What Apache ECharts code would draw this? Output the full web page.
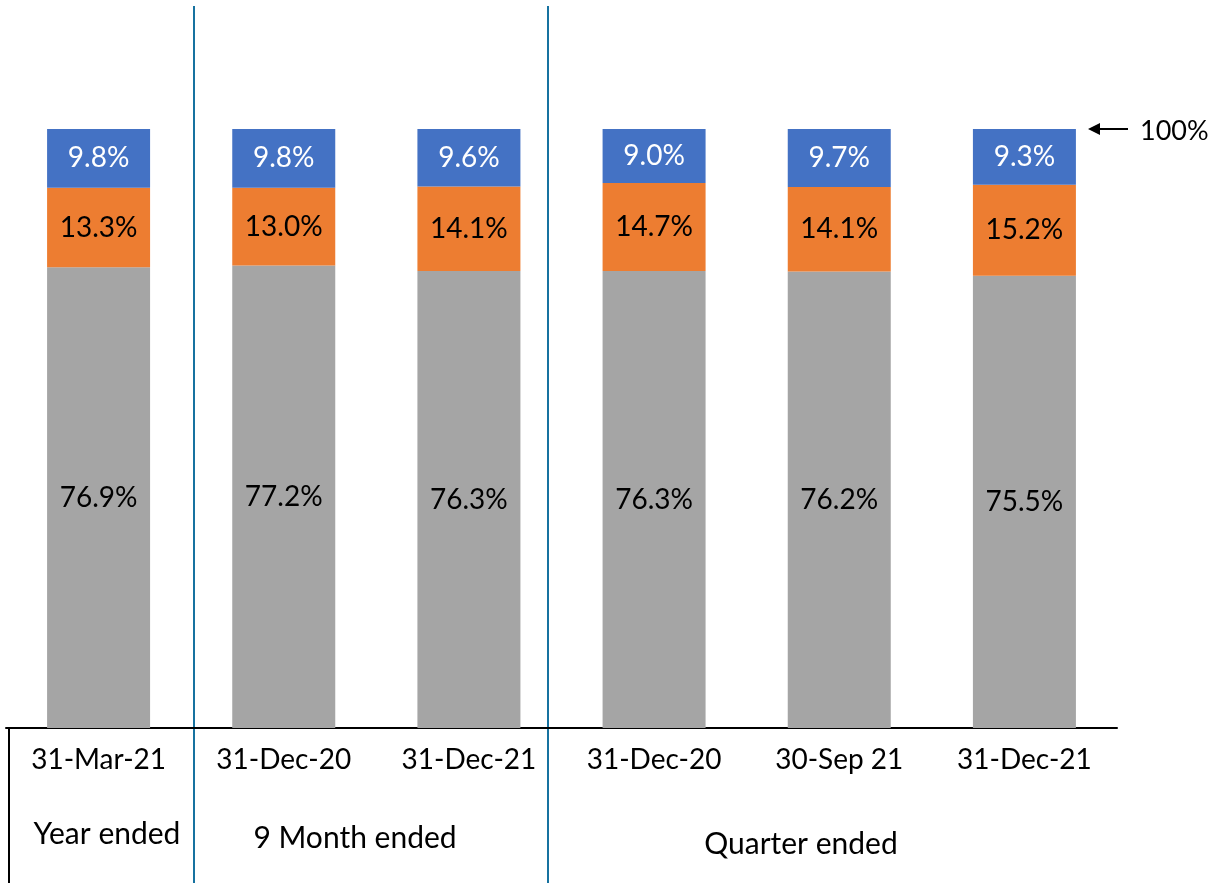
<!DOCTYPE html>
<html>
<head>
<meta charset="utf-8">
<script src="https://cdn.jsdelivr.net/npm/echarts@6/dist/echarts.min.js"></script>
<style>
html,body{margin:0;padding:0;background:#fff;}
#c{width:1212px;height:883px;}
</style>
</head>
<body>
<div id="c"></div>
<script>
const categories = ['31-Mar-21','31-Dec-20','31-Dec-21','31-Dec-20','30-Sep 21','31-Dec-21'];
const grayValues = [76.9, 77.2, 76.3, 76.3, 76.2, 75.5];
const orangeValues = [13.3, 13.0, 14.1, 14.7, 14.1, 15.2];
const blueValues = [9.8, 9.8, 9.6, 9.0, 9.7, 9.3];
const groupLabels = ['Year ended', '9 Month ended', 'Quarter ended'];
const topLabel = '100%';

const FONT = 'Lato';
const chart = echarts.init(document.getElementById('c'));

function mk(name, data, color, textColor) {
  return {
    name, type: 'bar', stack: 'total', data, barWidth: 103,
    itemStyle: { color },
    label: {
      show: true, position: 'inside', color: textColor,
      fontFamily: FONT, fontSize: 28,
      formatter: p => p.value.toFixed(1) + '%'
    }
  };
}

const sepColor = '#1672a0';
chart.setOption({
  animation: false,
  grid: { left: 6, right: 95, top: 129, bottom: 155 },
  xAxis: {
    type: 'category', data: categories,
    axisLine: { lineStyle: { color: '#000', width: 2 } },
    axisTick: { show: false },
    axisLabel: { color: '#000', fontFamily: FONT, fontSize: 28, margin: 18 }
  },
  yAxis: { type: 'value', min: 0, max: 100, show: false },
  series: [
    mk('gray', grayValues, '#A5A5A5', '#000'),
    mk('orange', orangeValues, '#ED7D31', '#000'),
    mk('blue', blueValues, '#4472C4', '#fff')
  ],
  graphic: [
    { type: 'line', shape: { x1: 194, y1: 6, x2: 194, y2: 883 }, style: { stroke: sepColor, lineWidth: 2 } },
    { type: 'line', shape: { x1: 548, y1: 6, x2: 548, y2: 883 }, style: { stroke: sepColor, lineWidth: 2 } },
    { type: 'line', shape: { x1: 9, y1: 728, x2: 9, y2: 883 }, style: { stroke: '#000', lineWidth: 2 } },
    { type: 'text', x: 107, y: 834, style: { text: groupLabels[0], fontFamily: FONT, fontSize: 30, fill: '#000', textAlign: 'center', textVerticalAlign: 'middle' } },
    { type: 'text', x: 355, y: 838, style: { text: groupLabels[1], fontFamily: FONT, fontSize: 30, fill: '#000', textAlign: 'center', textVerticalAlign: 'middle' } },
    { type: 'text', x: 801, y: 844, style: { text: groupLabels[2], fontFamily: FONT, fontSize: 30, fill: '#000', textAlign: 'center', textVerticalAlign: 'middle' } },
    { type: 'line', shape: { x1: 1096, y1: 129, x2: 1128, y2: 129 }, style: { stroke: '#000', lineWidth: 2 } },
    { type: 'polygon', shape: { points: [[1088,129],[1100,123],[1100,135]] }, style: { fill: '#000' } },
    { type: 'text', x: 1140, y: 131, style: { text: topLabel, fontFamily: FONT, fontSize: 27, fill: '#000', textAlign: 'left', textVerticalAlign: 'middle' } }
  ]
});
</script>
</body>
</html>
